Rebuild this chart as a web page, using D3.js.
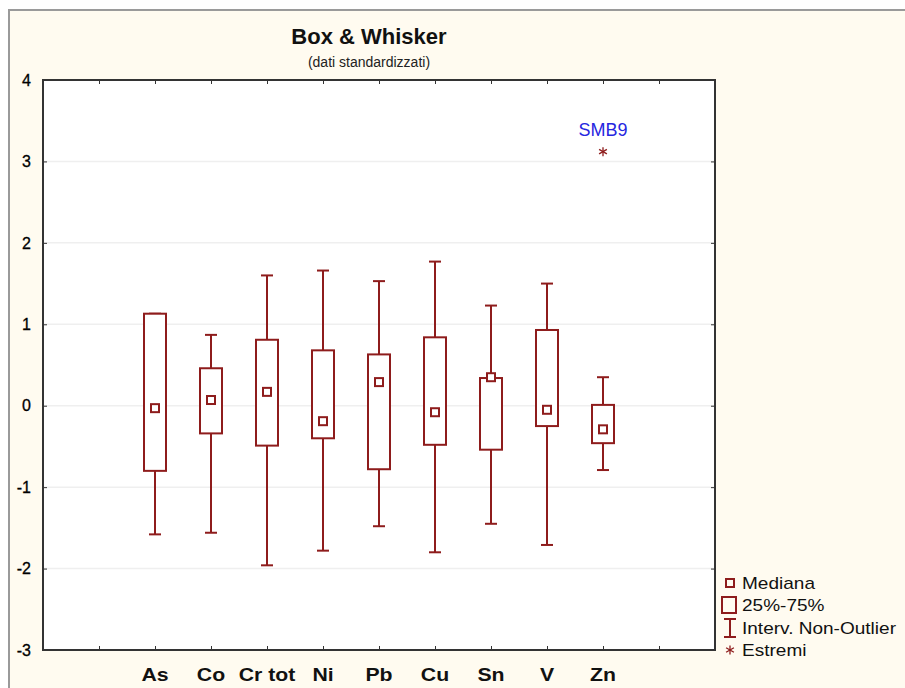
<!DOCTYPE html>
<html lang="it">
<head>
<meta charset="utf-8">
<title>Box & Whisker</title>
<script src="https://cdnjs.cloudflare.com/ajax/libs/d3/7.8.5/d3.min.js"></script>
<style>
  body { margin: 0; background: white; font-family: "Liberation Sans", Arial, sans-serif; }
  svg { display: block; }
</style>
</head>
<body>
<script>
// dati (valori standardizzati)
var categories = ["As", "Co", "Cr tot", "Ni", "Pb", "Cu", "Sn", "V", "Zn"];
var whiskLow  = [-1.58, -1.56, -1.96, -1.78, -1.48, -1.80, -1.45, -1.71, -0.79];
var q1        = [-0.80, -0.34, -0.49, -0.40, -0.78, -0.48, -0.54, -0.25, -0.46];
var medians   = [-0.03,  0.07,  0.17, -0.19,  0.29, -0.08,  0.35, -0.05, -0.29];
var q3        = [ 1.13,  0.46,  0.81,  0.68,  0.63,  0.84,  0.34,  0.93,  0.01];
var whiskHigh = [ 1.13,  0.87,  1.60,  1.66,  1.53,  1.77,  1.23,  1.50,  0.35];
var extremes  = [{cat: "Zn", value: 3.12, label: "SMB9"}];
var yTicks = [-3, -2, -1, 0, 1, 2, 3, 4];
var legendLabels = ["Mediana", "25%-75%", "Interv. Non-Outlier", "Estremi"];

var W = 905, H = 688;
var plot = {left: 43, right: 715, top: 80, bottom: 650};
var red = "#8e1c1c";

var svg = d3.select("body").append("svg").attr("width", W).attr("height", H);

// cornice esterna
svg.append("rect").attr("x", 9).attr("y", 10).attr("width", W).attr("height", H)
  .attr("fill", "#fffbf0").attr("stroke", "#9a9a9a").attr("stroke-width", 2);

svg.append("rect").attr("x", plot.left).attr("y", plot.top)
  .attr("width", plot.right - plot.left).attr("height", plot.bottom - plot.top)
  .attr("fill", "white");

// scale: uno slot vuoto ai lati
var slots = ["_a"].concat(categories).concat(["_b"]);
var x = d3.scalePoint().domain(slots).range([plot.left, plot.right]).padding(1);
var y = d3.scaleLinear().domain([-3, 4]).range([plot.bottom, plot.top]);

// griglia
svg.append("g").selectAll("line").data(yTicks.slice(1, -1)).join("line")
  .attr("x1", plot.left).attr("x2", plot.right)
  .attr("y1", d => y(d)).attr("y2", d => y(d))
  .attr("stroke", "#efefef").attr("stroke-width", 1.5);

// assi
function styleAxis(g) {
  g.select(".domain").remove();
  g.selectAll(".tick line").attr("stroke", "#333").attr("stroke-width", 1);
}
svg.append("g").attr("transform", "translate(" + plot.left + ",0)")
  .call(d3.axisRight(y).tickValues(yTicks).tickSize(4).tickFormat(""))
  .call(styleAxis);
svg.append("g").attr("transform", "translate(" + plot.right + ",0)")
  .call(d3.axisLeft(y).tickValues(yTicks).tickSize(4).tickFormat(""))
  .call(styleAxis);
svg.append("g").attr("transform", "translate(0," + plot.top + ")")
  .call(d3.axisBottom(x).tickSize(4).tickFormat(""))
  .call(styleAxis);
svg.append("g").attr("transform", "translate(0," + plot.bottom + ")")
  .call(d3.axisTop(x).tickSize(4).tickFormat(""))
  .call(styleAxis);

// etichette asse y
svg.append("g").selectAll("text").data(yTicks).join("text")
  .attr("x", 31).attr("y", d => y(d)).attr("dy", "0.36em")
  .attr("text-anchor", "end").attr("font-size", 16).attr("fill", "#000")
  .attr("stroke", "#000").attr("stroke-width", 0.3)
  .text(d => d);

// etichette categorie (testo un po' largo come nell'originale)
svg.append("g").selectAll("text").data(categories).join("text")
  .attr("transform", d => "translate(" + x(d) + ",681) scale(1.18,1)")
  .attr("text-anchor", "middle").attr("font-size", 18).attr("font-weight", "bold")
  .attr("fill", "#111").text(d => d);

svg.append("rect").attr("x", plot.left).attr("y", plot.top)
  .attr("width", plot.right - plot.left).attr("height", plot.bottom - plot.top)
  .attr("fill", "none").attr("stroke", "#333").attr("stroke-width", 2);

// box plot
var boxW = 22, capW = 12, medS = 8;
var rows = categories.map((c, i) => ({cat: c, lo: whiskLow[i], q1: q1[i], med: medians[i], q3: q3[i], hi: whiskHigh[i]}));
var g = svg.append("g").attr("stroke", red).attr("fill", "none").attr("stroke-width", 2);
var b = g.selectAll("g").data(rows).join("g");
b.append("line").attr("x1", d => x(d.cat)).attr("x2", d => x(d.cat))
  .attr("y1", d => y(d.hi)).attr("y2", d => y(d.q3));
b.append("line").attr("x1", d => x(d.cat)).attr("x2", d => x(d.cat))
  .attr("y1", d => y(d.q1)).attr("y2", d => y(d.lo));
b.append("line").attr("x1", d => x(d.cat) - capW / 2).attr("x2", d => x(d.cat) + capW / 2)
  .attr("y1", d => y(d.hi)).attr("y2", d => y(d.hi));
b.append("line").attr("x1", d => x(d.cat) - capW / 2).attr("x2", d => x(d.cat) + capW / 2)
  .attr("y1", d => y(d.lo)).attr("y2", d => y(d.lo));
b.append("rect").attr("x", d => x(d.cat) - boxW / 2).attr("width", boxW)
  .attr("y", d => y(d.q3)).attr("height", d => y(d.q1) - y(d.q3)).attr("fill", "white");
b.append("rect").attr("x", d => x(d.cat) - medS / 2).attr("width", medS)
  .attr("y", d => y(d.med) - medS / 2).attr("height", medS).attr("fill", "white");

// estremi
function star(g, cx, cy, r) {
  [0, 60, 120].forEach(a => {
    var rad = a * Math.PI / 180;
    g.append("line").attr("x1", cx - r * Math.sin(rad)).attr("x2", cx + r * Math.sin(rad))
      .attr("y1", cy - r * Math.cos(rad)).attr("y2", cy + r * Math.cos(rad))
      .attr("stroke", red).attr("stroke-width", 1.3);
  });
}
extremes.forEach(e => {
  star(svg, x(e.cat), y(e.value), 4.5);
  svg.append("text").attr("x", x(e.cat)).attr("y", y(e.value) - 16)
    .attr("text-anchor", "middle").attr("font-size", 18).attr("fill", "#2626e0").text(e.label);
});

// titolo
svg.append("text").attr("x", 369).attr("y", 44).attr("text-anchor", "middle")
  .attr("font-size", 22).attr("font-weight", "bold").attr("fill", "#111").text("Box & Whisker");
svg.append("text").attr("x", 369).attr("y", 67).attr("text-anchor", "middle")
  .attr("font-size", 14).attr("fill", "#222").text("(dati standardizzati)");

// legenda
var lg = svg.append("g").attr("stroke", red).attr("fill", "none").attr("stroke-width", 2);
lg.append("rect").attr("x", 726).attr("y", 579).attr("width", 8).attr("height", 8);
lg.append("rect").attr("x", 722).attr("y", 597).attr("width", 14).attr("height", 16);
lg.append("line").attr("x1", 730).attr("x2", 730).attr("y1", 619).attr("y2", 637);
lg.append("line").attr("x1", 724).attr("x2", 736).attr("y1", 619).attr("y2", 619);
lg.append("line").attr("x1", 724).attr("x2", 736).attr("y1", 637).attr("y2", 637);
star(svg, 730, 650, 4.5);
svg.append("g").selectAll("text").data(legendLabels).join("text")
  .attr("transform", (d, i) => "translate(742," + [583, 605, 628, 650][i] + ") scale(1.12,1)")
  .attr("dy", "0.36em")
  .attr("font-size", 17).attr("fill", "#111").text(d => d);
</script>
</body>
</html>
